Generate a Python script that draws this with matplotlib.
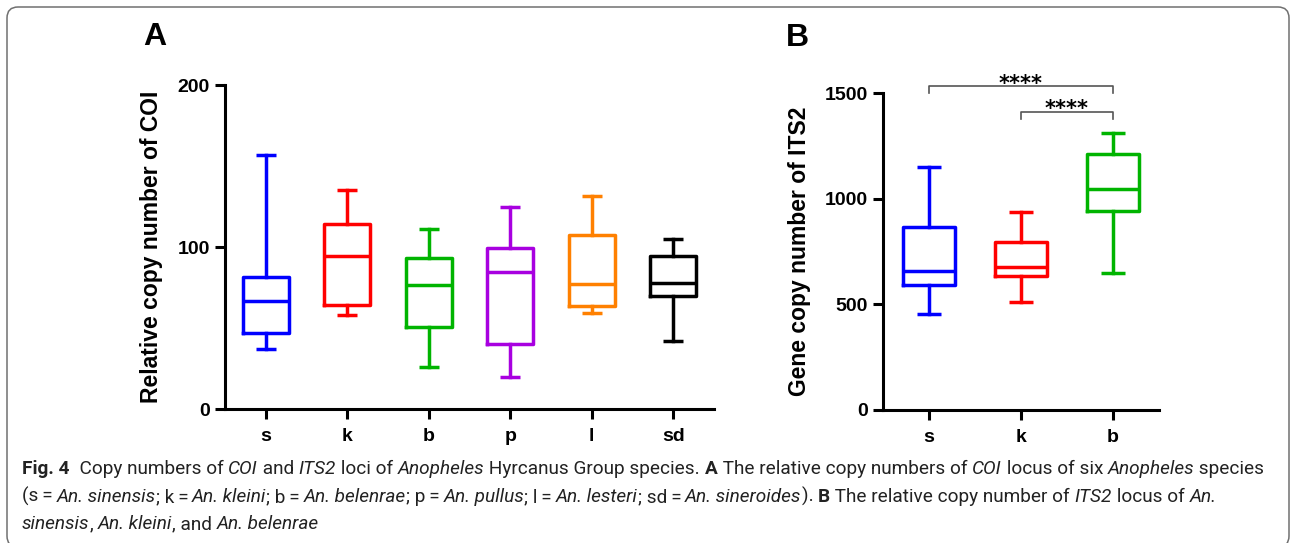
import matplotlib
matplotlib.use("Agg")
import matplotlib.pyplot as plt
from matplotlib.patches import FancyBboxPatch
from matplotlib.transforms import IdentityTransform

plt.rcParams['font.family'] = ['Liberation Sans', 'DejaVu Sans']

# panel A - relative copy number of COI
groups_a = ["s", "k", "b", "p", "l", "sd"]
a_whislo = [37, 58, 26, 20, 59, 42]
a_q1 = [47, 64, 50.5, 40, 63.5, 70]
a_med = [66.5, 94.5, 76.5, 84.5, 77, 78]
a_q3 = [81.5, 114.5, 93, 99.5, 107.5, 94.5]
a_whishi = [157, 135, 111, 124.5, 131.5, 105]
colors_a = ["#0000ff", "#ff0000", "#00b400", "#a800e0", "#ff8000", "#000000"]

# panel B - gene copy number of ITS2
groups_b = ["s", "k", "b"]
b_whislo = [455, 513, 647]
b_q1 = [592, 636, 943]
b_med = [658, 679, 1045]
b_q3 = [868, 794, 1211]
b_whishi = [1152, 936, 1310]
colors_b = ["#0000ff", "#ff0000", "#00b400"]

W, H = 1290, 543
fig = plt.figure(figsize=(W / 100, H / 100), dpi=100)

# rounded frame round the whole figure
frame = FancyBboxPatch((7, -4), 1282, 543 - 7 + 4, boxstyle="round,pad=0,rounding_size=11",
                       transform=IdentityTransform(), fill=False, ec="#707070", lw=1.1)
fig.patches.append(frame)


def boxes(ax, groups, lo, q1, med, q3, hi, colors, width, capw):
    stats = []
    for i in range(len(groups)):
        stats.append(dict(whislo=lo[i], q1=q1[i], med=med[i], q3=q3[i], whishi=hi[i]))
    res = ax.bxp(stats, positions=range(len(groups)), widths=width, capwidths=capw,
                 showfliers=False, patch_artist=False)
    for i, c in enumerate(colors):
        res['boxes'][i].set(color=c, lw=2.5)
        res['medians'][i].set(color=c, lw=2.5)
        for j in (2 * i, 2 * i + 1):
            res['whiskers'][j].set(color=c, lw=2.5)
            res['caps'][j].set(color=c, lw=2.5, solid_capstyle='butt')
    ax.set_xticks(range(len(groups)))
    ax.set_xticklabels(groups, fontsize=17, fontweight='bold')
    for s in ['top', 'right']:
        ax.spines[s].set_visible(False)
    for s in ['left', 'bottom']:
        ax.spines[s].set_linewidth(2.2)
    ax.tick_params(direction='out', length=7, width=2.2, labelsize=14, pad=4)
    ax.tick_params(axis='x', pad=7)


axA = fig.add_axes([225 / W, 1 - 409 / H, 489 / W, 324 / H])
boxes(axA, groups_a, a_whislo, a_q1, a_med, a_q3, a_whishi, colors_a, 0.56, 0.24)
axA.set_xlim(-0.5, 5.5)
axA.set_ylim(0, 200)
axA.set_yticks([0, 100, 200])
for lab in axA.get_yticklabels():
    lab.set_fontweight('bold')
axA.set_ylabel("Relative copy number of COI", fontsize=16.5, fontweight='bold', labelpad=10)

axB = fig.add_axes([883 / W, 1 - 410 / H, 276 / W, 316.7 / H])
boxes(axB, groups_b, b_whislo, b_q1, b_med, b_q3, b_whishi, colors_b, 0.56, 0.27)
axB.set_xlim(-0.5, 2.5)
axB.set_ylim(0, 1500)
axB.set_yticks([0, 500, 1000, 1500])
for lab in axB.get_yticklabels():
    lab.set_fontweight('bold')
axB.set_ylabel("Gene copy number of ITS2", fontsize=16.5, fontweight='bold', labelpad=10)

# significance brackets
for x0, x1, top, leg, sy in [(0, 2, 1535, 1500, 1516), (1, 2, 1413, 1377, 1397)]:
    axB.plot([x0, x0, x1, x1], [leg, top, top, leg], color="#555555", lw=1.2, clip_on=False)
    axB.text((x0 + x1) / 2, sy, "****", ha='center', va='baseline', fontsize=15,
             fontweight='bold', family='DejaVu Sans', clip_on=False)

fig.text(155 / W, 1 - 37 / H, "A", fontsize=23, fontweight='bold', ha='center', va='center')
fig.text(797 / W, 1 - 38 / H, "B", fontsize=23, fontweight='bold', ha='center', va='center')

# caption, drawn run by run so bold / italic pieces line up
cap_font = ['Liberation Sans Narrow', 'Roboto', 'DejaVu Sans']
R = "normal"
I = "italic"
B = "bold"
line1 = [("Fig. 4", B), ("  Copy numbers of ", R), ("COI", I), (" and ", R), ("ITS2", I),
         (" loci of ", R), ("Anopheles", I), (" Hyrcanus Group species. ", R), ("A", B),
         (" The relative copy numbers of ", R), ("COI", I), (" locus of six ", R),
         ("Anopheles", I), (" species", R)]
line2 = [("(s\u2009=\u2009", R), ("An. sinensis", I), ("; k\u2009=\u2009", R), ("An. kleini", I),
         ("; b\u2009=\u2009", R), ("An. belenrae", I), ("; p\u2009=\u2009", R), ("An. pullus", I),
         ("; l\u2009=\u2009", R), ("An. lesteri", I), ("; sd\u2009=\u2009", R), ("An. sineroides", I),
         ("). ", R), ("B", B), (" The relative copy number of ", R), ("ITS2", I),
         (" locus of ", R), ("An.", I)]
line3 = [("sinensis", I), (", ", R), ("An. kleini", I), (", and ", R), ("An. belenrae", I)]

renderer = fig.canvas.get_renderer()


def run_width(txt, style, size):
    kw = dict(fontsize=size, family=cap_font,
              fontweight='bold' if style == B else 'normal',
              fontstyle='italic' if style == I else 'normal')
    t1 = fig.text(0, 0, txt + "|", **kw)
    t2 = fig.text(0, 0, "|", **kw)
    w = t1.get_window_extent(renderer).width - t2.get_window_extent(renderer).width
    t1.remove()
    t2.remove()
    return w, kw


def draw_line(runs, x, y, size):
    for txt, style in runs:
        w, kw = run_width(txt, style, size)
        fig.text(x, y, txt, transform=IdentityTransform(), va='baseline', color="#222222", **kw)
        x += w
    return x


size = 12
total = sum(run_width(t, s, size)[0] for t, s in line1)
size = size * (1265 - 22) / total

draw_line(line1, 22, H - 474, size)
draw_line(line2, 22, H - 502, size)
draw_line(line3, 22, H - 529, size)

fig.savefig("out.png", dpi=100)
